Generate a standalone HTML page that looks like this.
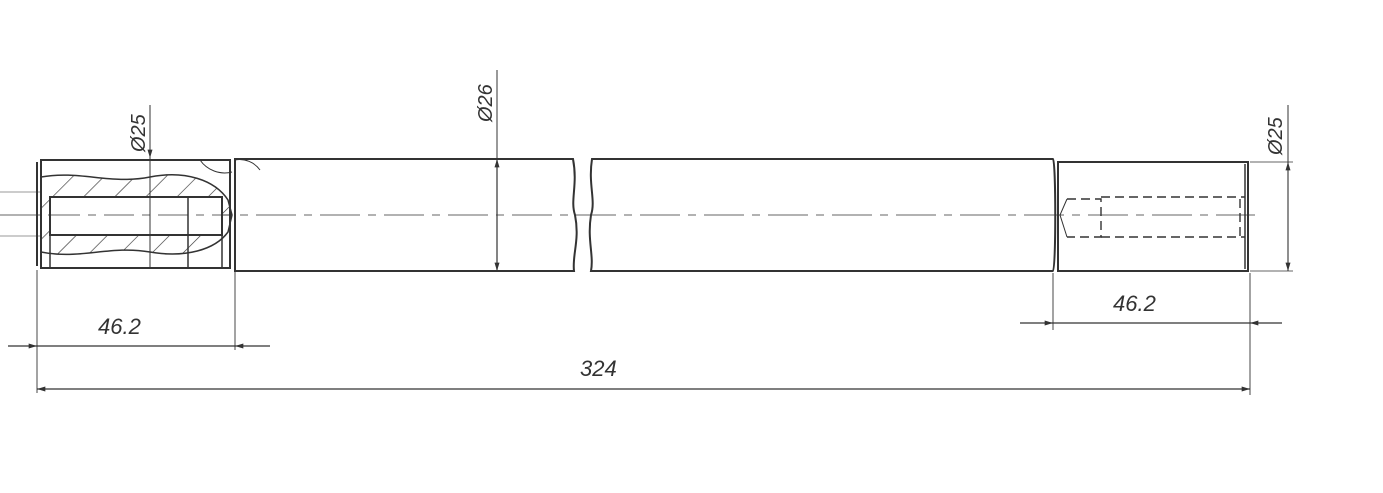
<!DOCTYPE html>
<html><head><meta charset="utf-8"><style>
html,body{margin:0;padding:0;background:#fff;width:1383px;height:493px;overflow:hidden}
svg{display:block}
text{font-family:"Liberation Sans",sans-serif;font-style:italic;fill:#333}
</style></head><body>
<svg width="1383" height="493" viewBox="0 0 1383 493">
<defs>
<pattern id="h" patternUnits="userSpaceOnUse" width="22" height="22" patternTransform="rotate(45)">
<line x1="0" y1="0" x2="0" y2="22" stroke="#333" stroke-width="1.3"/>
</pattern>
<marker id="a" viewBox="0 0 10 6" refX="10" refY="3" markerWidth="12" markerHeight="5" orient="auto-start-reverse" markerUnits="userSpaceOnUse"><path d="M0,0L10,3L0,6z" fill="#333"/></marker>
</defs>
<g stroke="#333" fill="none" stroke-width="1.2">
<!-- centerline -->
<line x1="0" y1="215" x2="1255" y2="215" stroke-dasharray="40,8,8,8" stroke-width="0.8"/>
<line x1="0" y1="192" x2="40" y2="192" stroke-width="0.6"/>
<line x1="0" y1="236" x2="40" y2="236" stroke-width="0.6"/>
<!-- left end -->
<path d="M41,160 H230 V268 H41 Z" stroke-width="2"/>
<line x1="37" y1="162" x2="37" y2="266" stroke-width="2"/>
<path d="M41,177 C80,170 110,185 150,177 C185,170 215,180 228,200 L232,215 L228,232 C215,250 185,258 150,252 C110,245 80,260 41,252 L41,177Z" fill="url(#h)" stroke-width="1.5"/>
<rect x="50" y="197" width="172" height="38" fill="#fff" stroke-width="2"/>
<line x1="188" y1="197" x2="188" y2="268" stroke-width="1.5"/>
<line x1="50" y1="235" x2="50" y2="268" stroke-width="1.5"/>
<line x1="222" y1="235" x2="222" y2="268" stroke-width="1.5"/>
<line x1="50" y1="215" x2="232" y2="215" stroke-dasharray="30,8,8,8" stroke-width="0.8"/>
<path d="M200,160 A30,30 0 0 0 232,172" stroke-width="1"/>
<!-- shaft -->
<path d="M235,159 H573 C578,185 570,200 575,215 C580,240 572,255 574,271 H235 Z" stroke-width="2"/>
<path d="M592,159 C588,185 596,200 591,215 C587,240 594,255 591,271 H1053 C1056,271 1056,160 1053,159 Z" stroke-width="2"/>
<line x1="235" y1="159" x2="235" y2="271" stroke-width="2"/>
<path d="M235,160 A25,25 0 0 1 260,170" stroke-width="1"/>
<!-- right end -->
<rect x="1058" y="162" width="190" height="109" stroke-width="2"/>
<line x1="1245" y1="164" x2="1245" y2="269" stroke-width="1.5"/>
<g stroke-dasharray="9,5" stroke-width="1.4">
<path d="M1067,199 H1101 V237 H1067"/>
<line x1="1101" y1="197" x2="1245" y2="197"/>
<line x1="1101" y1="237" x2="1245" y2="237"/>
<line x1="1240" y1="199" x2="1240" y2="237"/>
</g>
<path d="M1067,199 L1060,215 L1067,237" stroke-width="1"/>
<!-- dims -->
<line x1="150" y1="105" x2="150" y2="158" marker-end="url(#a)" stroke-width="1"/>
<line x1="150" y1="158" x2="150" y2="268" stroke-width="1"/>
<line x1="497" y1="70" x2="497" y2="159" stroke-width="1"/>
<line x1="497" y1="159" x2="497" y2="271" marker-start="url(#a)" marker-end="url(#a)" stroke-width="1.2"/>
<line x1="1250" y1="162" x2="1293" y2="162" stroke-width="0.8"/>
<line x1="1250" y1="271" x2="1293" y2="271" stroke-width="0.8"/>
<line x1="1288" y1="105" x2="1288" y2="162" stroke-width="1"/>
<line x1="1288" y1="162" x2="1288" y2="271" marker-start="url(#a)" marker-end="url(#a)" stroke-width="1.1"/>
<line x1="37" y1="270" x2="37" y2="393" stroke-width="0.9"/>
<line x1="235" y1="272" x2="235" y2="350" stroke-width="0.9"/>
<line x1="1053" y1="273" x2="1053" y2="330" stroke-width="0.9"/>
<line x1="1250" y1="273" x2="1250" y2="395" stroke-width="0.9"/>
<line x1="8" y1="346" x2="37" y2="346" marker-end="url(#a)" stroke-width="1.2"/>
<line x1="37" y1="346" x2="235" y2="346" stroke-width="1.2"/>
<line x1="270" y1="346" x2="235" y2="346" marker-end="url(#a)" stroke-width="1.2"/>
<line x1="1020" y1="323" x2="1053" y2="323" marker-end="url(#a)" stroke-width="1.2"/>
<line x1="1053" y1="323" x2="1250" y2="323" stroke-width="1.2"/>
<line x1="1282" y1="323" x2="1250" y2="323" marker-end="url(#a)" stroke-width="1.2"/>
<line x1="37" y1="389" x2="1250" y2="389" marker-start="url(#a)" marker-end="url(#a)" stroke-width="1.2"/>
</g>
<text x="98" y="334" font-size="22">46.2</text>
<text x="1113" y="311" font-size="22">46.2</text>
<text x="580" y="376" font-size="22">324</text>
<text transform="translate(145,152) rotate(-90)" font-size="20">Ø25</text>
<text transform="translate(492,122) rotate(-90)" font-size="20">Ø26</text>
<text transform="translate(1282,155) rotate(-90)" font-size="20">Ø25</text>
</svg>
</body></html>
